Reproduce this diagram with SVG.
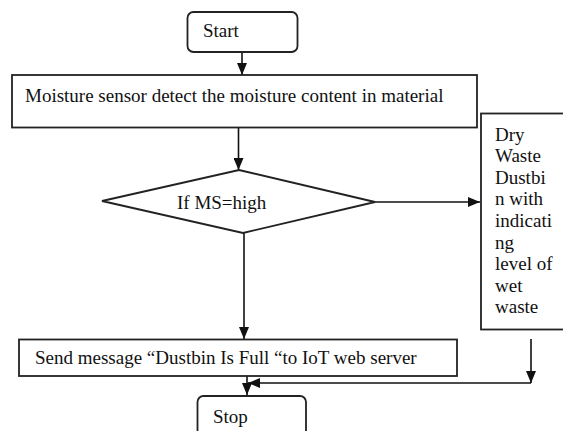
<svg xmlns="http://www.w3.org/2000/svg" width="563" height="431" viewBox="0 0 563 431">
<style>
.box{fill:#fff;stroke:#222;stroke-width:1.8}
.ln{fill:none;stroke:#111;stroke-width:1.6}
.t{font-family:"Liberation Serif","Times New Roman",serif;font-size:19px;fill:#111}
</style>
<defs>
<marker id="ah" markerUnits="userSpaceOnUse" markerWidth="12" markerHeight="10" viewBox="0 0 12 10" refX="12" refY="5" orient="auto">
<path d="M0,0 L12,5 L0,10 Z" fill="#111"/>
</marker>
</defs>
<rect width="563" height="431" fill="#fff"/>
<g id="connectors">
<line class="ln" x1="242" y1="52" x2="242" y2="75" marker-end="url(#ah)"/>
<line class="ln" x1="238.5" y1="128" x2="238.5" y2="170" marker-end="url(#ah)"/>
<line class="ln" x1="375" y1="202" x2="480" y2="202" marker-end="url(#ah)"/>
<line class="ln" x1="244" y1="233" x2="244" y2="339" marker-end="url(#ah)"/>
<line class="ln" x1="247" y1="376" x2="247" y2="395" marker-end="url(#ah)"/>
<line class="ln" x1="531" y1="339" x2="531" y2="383" marker-end="url(#ah)"/>
<line class="ln" x1="531" y1="383" x2="248" y2="383" marker-end="url(#ah)"/>
</g>
<g id="start">
<rect class="box" x="187.5" y="12" width="110" height="40" rx="6"/>
<text class="t" x="203" y="37">Start</text>
</g>
<g id="detect">
<rect class="box" x="12" y="75" width="465" height="52.5"/>
<text class="t" x="25" y="101.5">Moisture sensor detect the moisture content in material</text>
</g>
<g id="decision">
<polygon class="box" points="239,170 375,202 243,233 102,201"/>
<text class="t" x="177" y="208.5">If MS=high</text>
</g>
<g id="drywaste">
<rect class="box" x="481" y="113.5" width="95" height="216"/>
<text class="t" x="495">
<tspan x="495" y="140.5">Dry</tspan>
<tspan x="495" y="162.1">Waste</tspan>
<tspan x="495" y="183.7">Dustbi</tspan>
<tspan x="495" y="205.3">n with</tspan>
<tspan x="495" y="226.9">indicati</tspan>
<tspan x="495" y="248.5">ng</tspan>
<tspan x="495" y="270.1">level of</tspan>
<tspan x="495" y="291.7">wet</tspan>
<tspan x="495" y="313.3">waste</tspan>
</text>
</g>
<g id="send">
<rect class="box" x="19" y="339.5" width="438" height="36.5"/>
<text class="t" x="35" y="363.5">Send message “Dustbin Is Full “to IoT web server</text>
</g>
<g id="stop">
<rect class="box" x="197.5" y="396" width="108.5" height="50" rx="6"/>
<text class="t" x="213" y="423">Stop</text>
</g>
</svg>
